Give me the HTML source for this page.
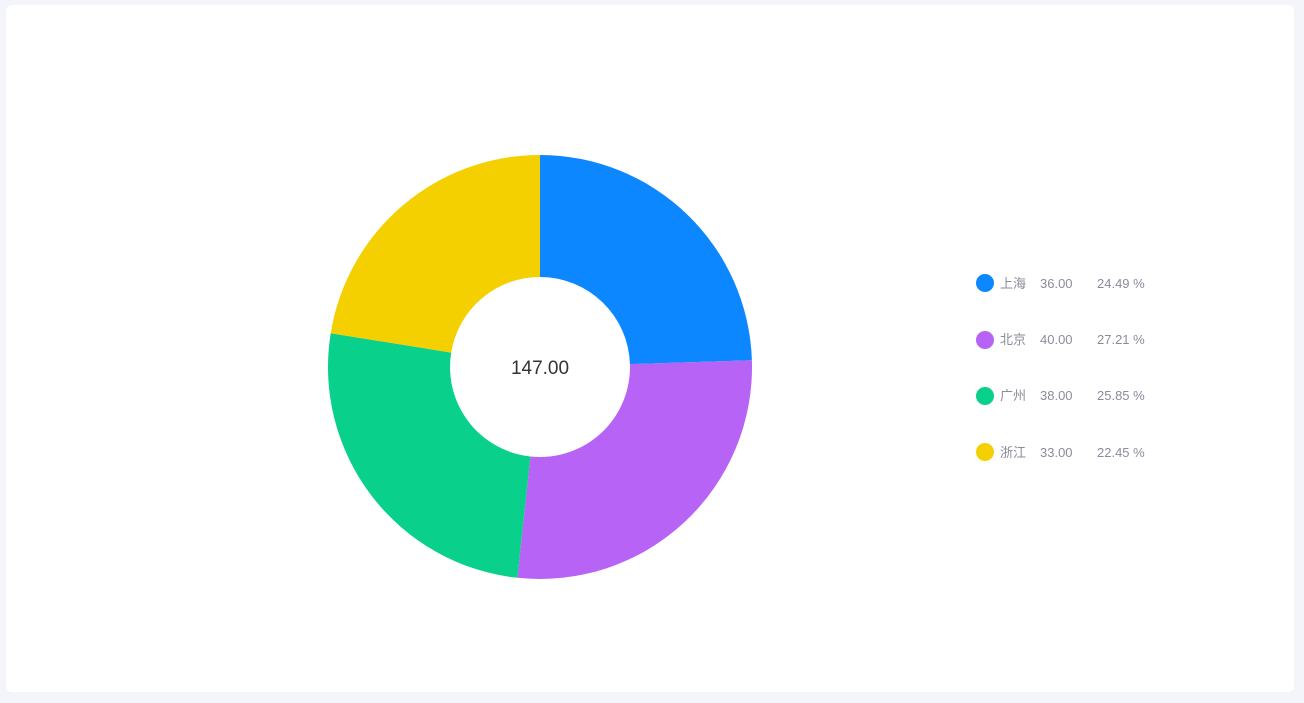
<!DOCTYPE html>
<html><head><meta charset="utf-8"><style>
html,body{margin:0;padding:0;width:1304px;height:703px;background:#f3f5fa;overflow:hidden;font-family:"Liberation Sans","Noto Sans CJK SC",sans-serif;}
.card{position:absolute;left:6px;top:5px;width:1288px;height:687px;background:#fff;border-radius:6px;}
</style></head><body>
<div class="card"></div>
<svg width="1304" height="703" style="position:absolute;left:0;top:0">
<path d="M540,155 A212,212 0 0 1 751.9,360.2 L629.95,364.1 A90,90 0 0 0 540,277 Z" fill="#0c87ff"/>
<path d="M751.9,360.2 A212,212 0 0 1 517.4,577.8 L530.4,456.5 A90,90 0 0 0 629.95,364.1 Z" fill="#b763f5"/>
<path d="M517.4,577.8 A212,212 0 0 1 330.7,333.2 L451.2,352.6 A90,90 0 0 0 530.4,456.5 Z" fill="#09d08b"/>
<path d="M330.7,333.2 A212,212 0 0 1 540,155 L540,277 A90,90 0 0 0 451.2,352.6 Z" fill="#f4d000"/>
<text x="540" y="374" text-anchor="middle" font-size="19" fill="#333" font-family="Liberation Sans, sans-serif">147.00</text>
<g font-size="13" fill="#8a8c99" font-family="Liberation Sans, Noto Sans CJK SC, sans-serif">
<circle cx="985" cy="283" r="9" fill="#0c87ff"/><text x="1000" y="288">上海</text><text x="1040" y="288">36.00</text><text x="1097" y="288">24.49 %</text>
<circle cx="985" cy="340" r="9" fill="#b763f5"/><text x="1000" y="344">北京</text><text x="1040" y="344">40.00</text><text x="1097" y="344">27.21 %</text>
<circle cx="985" cy="396" r="9" fill="#09d08b"/><text x="1000" y="400">广州</text><text x="1040" y="400">38.00</text><text x="1097" y="400">25.85 %</text>
<circle cx="985" cy="452" r="9" fill="#f4d000"/><text x="1000" y="457">浙江</text><text x="1040" y="457">33.00</text><text x="1097" y="457">22.45 %</text>
</g>
</svg>
</body></html>
